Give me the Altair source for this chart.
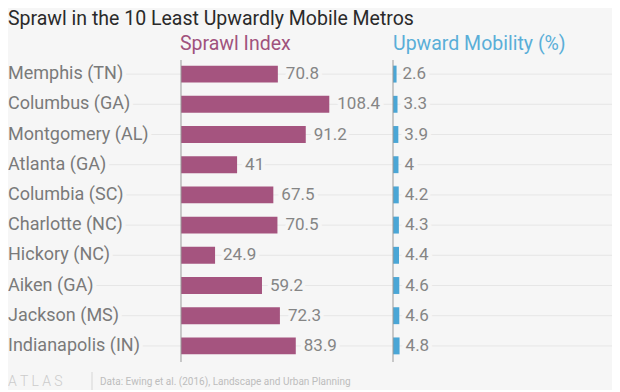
import altair as alt
import pandas as pd

cities = ["Memphis (TN)", "Columbus (GA)", "Montgomery (AL)", "Atlanta (GA)",
          "Columbia (SC)", "Charlotte (NC)", "Hickory (NC)", "Aiken (GA)",
          "Jackson (MS)", "Indianapolis (IN)"]
sprawl = [70.8, 108.4, 91.2, 41, 67.5, 70.5, 24.9, 59.2, 72.3, 83.9]
mobility = [2.6, 3.3, 3.9, 4, 4.2, 4.3, 4.4, 4.6, 4.6, 4.8]

title_text = "Sprawl in the 10 Least Upwardly Mobile Metros"
head_sprawl = "Sprawl Index"
head_mob = "Upward Mobility (%)"
footer_logo = "A  T  L  A  S"
footer_src = "Data: Ewing et al. (2016), Landscape and Urban Planning"

df = pd.DataFrame({"city": cities, "sprawl": sprawl, "mobility": mobility})

BG = "#f6f6f6"
FONT = "Roboto"
PINK = "#a5547f"
BLUE = "#4aa6d6"
W, H = 604, 302

sx = alt.Scale(domain=[-126.46, 315.06])
mx = alt.Scale(domain=[-281.43, 160.08])
yenc = alt.Y("city:N", sort=cities,
             scale=alt.Scale(paddingInner=0.44, paddingOuter=0.22), axis=None)

base = alt.Chart(df)

grid = base.mark_rule(color="#e6e6e6", strokeWidth=1).encode(
    y=yenc, x=alt.value(0), x2=alt.value(W))

city_halo = base.mark_text(align="left", baseline="middle", font=FONT, fontSize=18,
                           fill=BG, stroke=BG, strokeWidth=8, strokeJoin="round").encode(
    y=yenc, x=alt.value(0), text="city:N")
city_text = base.mark_text(align="left", baseline="middle", font=FONT, fontSize=18,
                           color="#7a7a7a").encode(y=yenc, x=alt.value(0), text="city:N")

s_bar = base.mark_bar(color=PINK).encode(
    y=yenc, x=alt.X("sprawl:Q", scale=sx, axis=None), x2=alt.datum(0))
s_halo = base.mark_text(align="left", baseline="middle", font=FONT, fontSize=17, dx=8,
                        fill=BG, stroke=BG, strokeWidth=8, strokeJoin="round").encode(
    y=yenc, x=alt.X("sprawl:Q", scale=sx, axis=None), text=alt.Text("sprawl:Q", format="~g"))
s_text = base.mark_text(align="left", baseline="middle", font=FONT, fontSize=17, dx=8,
                        color="#858585").encode(
    y=yenc, x=alt.X("sprawl:Q", scale=sx, axis=None), text=alt.Text("sprawl:Q", format="~g"))
s_axis = alt.Chart(pd.DataFrame({"z": [0]})).mark_rule(color="#9a9a9a", strokeWidth=1).encode(
    x=alt.X("z:Q", scale=sx, axis=None), y=alt.value(1), y2=alt.value(H + 1))
s_head = alt.Chart(pd.DataFrame({"z": [0], "t": [head_sprawl]})).mark_text(
    align="left", baseline="middle", font=FONT, fontSize=19.5, color="#a0527d", dx=-1).encode(
    x=alt.X("z:Q", scale=sx, axis=None), y=alt.value(-15), text="t:N")

m_bar = base.mark_bar(color=BLUE).encode(
    y=yenc, x=alt.X("mobility:Q", scale=mx, axis=None), x2=alt.datum(0))
m_halo = base.mark_text(align="left", baseline="middle", font=FONT, fontSize=17, dx=6,
                        fill=BG, stroke=BG, strokeWidth=8, strokeJoin="round").encode(
    y=yenc, x=alt.X("mobility:Q", scale=mx, axis=None), text=alt.Text("mobility:Q", format="~g"))
m_text = base.mark_text(align="left", baseline="middle", font=FONT, fontSize=17, dx=6,
                        color="#858585").encode(
    y=yenc, x=alt.X("mobility:Q", scale=mx, axis=None), text=alt.Text("mobility:Q", format="~g"))
m_axis = alt.Chart(pd.DataFrame({"z": [0]})).mark_rule(color="#9a9a9a", strokeWidth=1).encode(
    x=alt.X("z:Q", scale=mx, axis=None), y=alt.value(1), y2=alt.value(H + 1))
m_head = alt.Chart(pd.DataFrame({"z": [0], "t": [head_mob]})).mark_text(
    align="left", baseline="middle", font=FONT, fontSize=19.5, color="#5aaed8", dx=0).encode(
    x=alt.X("z:Q", scale=mx, axis=None), y=alt.value(-15), text="t:N")

title = alt.Chart(pd.DataFrame({"t": [title_text]})).mark_text(
    align="left", baseline="alphabetic", font=FONT, fontSize=19.5, color="#2a2a2a").encode(
    x=alt.value(0), y=alt.value(-34), text="t:N")
logo = alt.Chart(pd.DataFrame({"t": [footer_logo]})).mark_text(
    align="left", baseline="middle", font=FONT, fontSize=14, fontWeight=300, color="#cccccc").encode(
    x=alt.value(0), y=alt.value(323), text="t:N")
sep = alt.Chart(pd.DataFrame({"t": [0]})).mark_rule(color="#d6d6d6").encode(
    x=alt.value(84), y=alt.value(313), y2=alt.value(333))
src = alt.Chart(pd.DataFrame({"t": [footer_src]})).mark_text(
    align="left", baseline="middle", font=FONT, fontSize=10, color="#bdbdbd").encode(
    x=alt.value(92), y=alt.value(323), text="t:N")

chart = alt.layer(
    grid, city_halo, s_halo, m_halo, s_bar, m_bar, s_axis, m_axis,
    city_text, s_text, m_text, s_head, m_head, title, logo, sep, src
).resolve_scale(x="independent").properties(
    width=W, height=H,
    autosize=alt.AutoSizeParams(type="none"),
    padding={"left": 0, "top": 51, "right": 0, "bottom": 29},
    background=BG,
).configure_view(stroke=None)

chart.save("out.html", embed_options={"renderer": "svg", "actions": False})
